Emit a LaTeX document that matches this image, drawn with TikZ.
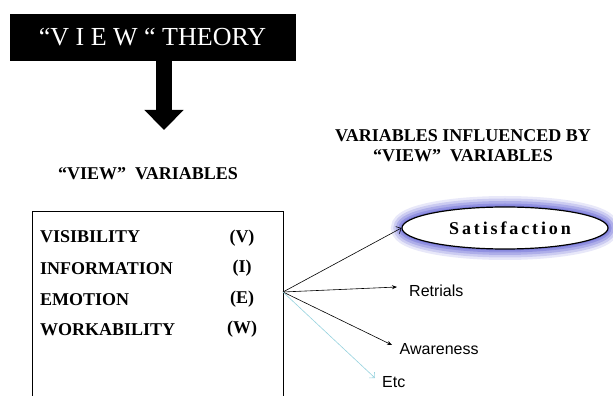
\documentclass[tikz,border=0pt]{standalone}
\usepackage{fontspec}
\setmainfont{Liberation Serif}
\setsansfont{Liberation Sans}
\usetikzlibrary{arrows.meta, positioning, shapes.geometric, backgrounds}
\definecolor{glowblue}{RGB}{104,104,214}
\definecolor{etccyan}{RGB}{150,210,222}

\begin{document}
\begin{tikzpicture}[
		x=1pt, y=1pt,
		>=Stealth,
		heading/.style={font=\fontsize{18}{20}\selectfont\bfseries, align=center, inner sep=0pt},
		varname/.style={font=\fontsize{18}{20}\selectfont\bfseries, anchor=base west, inner sep=0pt},
		varletter/.style={font=\fontsize{18}{20}\selectfont\bfseries, anchor=base, inner sep=0pt},
		effect/.style={font=\sffamily\fontsize{16}{18}\selectfont, anchor=west, inner ysep=0pt},
		fanline/.style={line width=0.6pt, -{Stealth[length=5pt, width=4pt]}}
		]
		\useasboundingbox (0,0) rectangle (613,396);
		
		% =========================================================
		% 1. Title and the big arrow
		% =========================================================
		\node[fill=black, draw=black, text=white, minimum width=285pt, minimum height=46pt, inner sep=0pt, font=\fontsize{26}{28}\selectfont] (Title) at (152.5,359) {“V I E W “ THEORY};
		\coordinate (ArrowTip) at (164,266);
		\draw[line width=16pt, -{Triangle[length=20pt, width=38pt]}] (Title.south -| ArrowTip) -- (ArrowTip);
		
		% =========================================================
		% 2. Headings
		% =========================================================
		\node[heading, anchor=base] (ViewHead) at (148,216) {“VIEW”\ \ VARIABLES};
		\node[heading] (InflHead) at (463,250) {VARIABLES INFLUENCED BY\\“VIEW”\ \ VARIABLES};
		
		% =========================================================
		% 3. The VIEW variables box
		% =========================================================
		\node[draw, line width=0.8pt, minimum width=251pt, minimum height=195pt, anchor=north west] (VarBox) at (32,185) {};
		\coordinate (LetterCol) at (242,0);
		
		\node[varname] (Vis) at (40,153) {VISIBILITY};
		\node[varname] (Info) at (40,121) {INFORMATION};
		\node[varname] (Emo) at (40,90) {EMOTION};
		\node[varname] (Work) at (40,60) {WORKABILITY};
		
		\node[varletter] (VisL) at (Vis.base -| LetterCol) {(V)};
		\node[varletter] (InfoL) at ([yshift=2pt]Info.base -| LetterCol) {(I)};
		\node[varletter] (EmoL) at ([yshift=2pt]Emo.base -| LetterCol) {(E)};
		\node[varletter] (WorkL) at ([yshift=2pt]Work.base -| LetterCol) {(W)};
		
		% =========================================================
		% 4. Influenced variables
		% =========================================================
		\node[draw, line width=1.2pt, ellipse, fill=white, minimum width=206pt, minimum height=42pt, inner sep=0pt,
		font=\fontsize{18}{20}\selectfont\bfseries\addfontfeature{LetterSpace=16}] (Sat) at (505,168) {\hspace*{10pt}Satisfaction};
		
		\begin{scope}[on background layer]
			\foreach \w/\o in {22/0.15, 17/0.22, 12/0.3, 7/0.4, 3/0.5}
			\draw[glowblue, line width=\w pt, opacity=\o] (Sat.center) ellipse [x radius=103pt, y radius=21pt];
		\end{scope}
		
		\node[effect, inner xsep=12pt] (Retr) at (397,105) {Retrials};
		\node[effect, inner xsep=7.5pt] (Aware) at (392,47) {Awareness};
		\node[effect, inner xsep=7pt] (Etc) at (375,13.5) {Etc};
		
		% fan of arrows
		\coordinate (Fan) at (283,104);
		\draw[line width=0.6pt, -{Straight Barb[length=4pt]}] (Fan) -- (Sat.west);
		\draw[fanline] (Fan) -- ([yshift=4pt]Retr.west);
		\draw[fanline] (Fan) -- ([yshift=4pt]Aware.west);
		\draw[line width=0.6pt, etccyan, -{Straight Barb[length=4pt]}] (Fan) -- ([yshift=4.5pt]Etc.west);
	\end{tikzpicture}
\end{document}
